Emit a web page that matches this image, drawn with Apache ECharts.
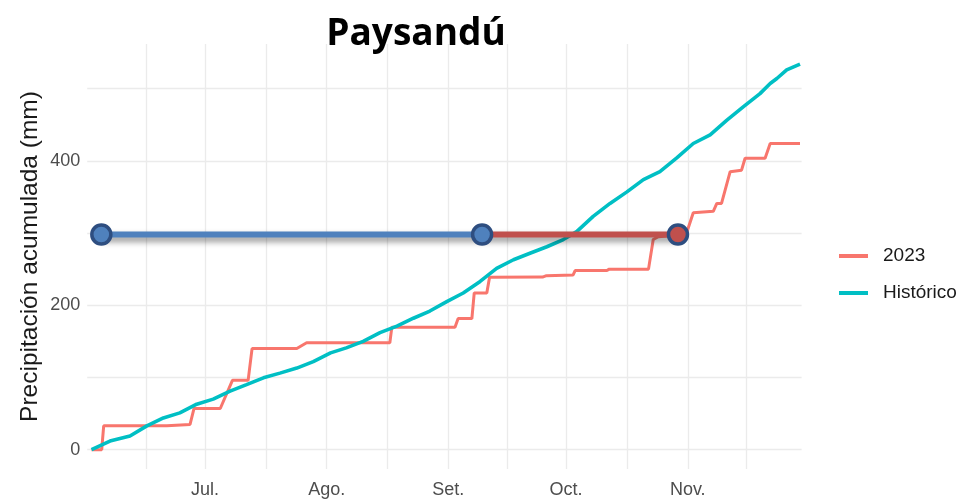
<!DOCTYPE html>
<html>
<head>
<meta charset="utf-8">
<script src="https://cdn.jsdelivr.net/npm/echarts@6/dist/echarts.min.js"></script>
<style>
html,body{margin:0;padding:0;background:#fff;}
#chart{width:962px;height:499px;}
</style>
</head>
<body>
<div id="chart"></div>
<script>
// Days counted from June 1 (day 0)
const monthStarts = [30, 61, 92, 122, 153];
const monthLabels = ['Jul.', 'Ago.', 'Set.', 'Oct.', 'Nov.'];
const gridDays = [15, 30, 45.5, 61, 76.5, 92, 107, 122, 137.5, 153, 168];
const yTicks = [0, 100, 200, 300, 400, 500];
const yLabels = [0, 200, 400];

const historicoDays = [1.1, 5.8, 10.9, 15.2, 19.4, 23.6, 27.9, 32.1, 36.4, 40.6, 44.9, 49.1, 53.4, 57.6, 62, 66, 70.3, 74.6, 78.9, 83.1, 87.3, 91.6, 95.8, 100.1, 104.3, 108.6, 112.8, 117.1, 121.3, 124.7, 128.9, 133.2, 137.5, 141.7, 145.9, 150.2, 154.4, 158.7, 162.9, 167.2, 171.4, 174, 175.7, 178.2, 181.6];
const historicoMm = [0, 12, 19, 33, 44, 51, 63, 70, 81, 90, 99.5, 106, 113, 122, 134, 141, 150, 162, 171, 182, 192, 205, 217, 233, 251, 263, 272, 281, 291, 302, 323, 341, 357, 374, 385, 404, 424, 436, 456, 475, 493, 507, 514, 526, 534];

const y2023Days = [1.1, 3.7, 4.2, 20.3, 20.8, 26.2, 27.2, 33.9, 37, 41, 42, 53.4, 55.9, 77.1, 77.6, 93.7, 94.5, 98, 98.6, 101.8, 102.5, 116, 117, 123.8, 124.3, 132.4, 133, 143, 144.2, 145.5, 150, 152.7, 154.4, 159.5, 160.4, 161.6, 163.8, 166.7, 167.6, 172.7, 174, 181.6];
const y2023Mm = [0, 0, 33, 33, 35, 35, 57, 57, 96, 96, 140, 140, 148, 148, 169.5, 169.5, 181.5, 181.5, 217, 217, 238.6, 239, 241, 242, 248, 248, 250, 250, 291, 295, 297, 300, 328, 330, 341, 341, 385, 387, 403.6, 403.6, 424, 424];

const annotLevel = 298;
const annotDays = [3.6, 100.6, 150.5];

const zip = (a, b) => a.map((v, i) => [v, b[i]]);

const chart = echarts.init(document.getElementById('chart'));
const dotStyle = { borderColor: '#2E4E80', borderWidth: 3.5 };
chart.setOption({
  animation: false,
  backgroundColor: '#fff',
  title: {
    text: 'Paysandú',
    left: 416, top: 16, textAlign: 'center', padding: 0,
    textStyle: { fontFamily: 'Open Sans', fontWeight: 'bold', fontSize: 37, color: '#000' }
  },
  legend: {
    data: ['2023', 'Histórico'],
    orient: 'vertical', left: 839, top: 245, padding: 0,
    icon: 'rect', itemWidth: 29, itemHeight: 4, itemGap: 15,
    textStyle: { fontFamily: 'Liberation Sans', fontSize: 19, color: '#1a1a1a', lineHeight: 22, padding: [0, 0, 0, 10] }
  },
  grid: { left: 87.2, right: 160.4, top: 44, bottom: 29.3, containLabel: false },
  xAxis: {
    type: 'value', min: 0, max: 182,
    axisLine: { show: false },
    axisTick: { show: false, customValues: gridDays },
    axisLabel: {
      customValues: monthStarts, margin: 12,
      fontFamily: 'Liberation Sans', fontSize: 18, color: '#4D4D4D',
      formatter: v => monthLabels[monthStarts.indexOf(v)] || ''
    },
    splitLine: { show: true, lineStyle: { color: '#EBEBEB', width: 1.3 } }
  },
  yAxis: {
    type: 'value', min: -26.75, max: 561.75,
    name: 'Precipitación acumulada (mm)', nameLocation: 'middle', nameGap: 44,
    nameMoveOverlap: false,
    nameTextStyle: { fontFamily: 'Liberation Sans', fontSize: 24.5, color: '#1a1a1a' },
    axisLine: { show: false },
    axisTick: { show: false, customValues: yTicks },
    axisLabel: {
      customValues: yLabels, margin: 7,
      fontFamily: 'Liberation Sans', fontSize: 18, color: '#4D4D4D'
    },
    splitLine: { show: true, lineStyle: { color: '#EBEBEB', width: 1.3 } }
  },
  series: [
    {
      name: '2023', type: 'line', data: zip(y2023Days, y2023Mm),
      showSymbol: false, color: '#F8766D',
      lineStyle: { width: 3, color: '#F8766D' }, z: 3
    },
    {
      name: 'Histórico', type: 'line', data: zip(historicoDays, historicoMm),
      showSymbol: false, color: '#00BFC4',
      lineStyle: { width: 3.6, color: '#00BFC4' }, z: 4
    },
    {
      name: 'annotRed', type: 'line', z: 5,
      data: [
        { value: [annotDays[1], annotLevel], symbol: 'none' },
        { value: [annotDays[2], annotLevel] }
      ],
      symbol: 'circle', symbolSize: 19,
      itemStyle: Object.assign({ color: '#C0504D' }, dotStyle),
      lineStyle: { width: 6, color: '#C0504D', shadowColor: 'rgba(0,0,0,0.45)', shadowBlur: 6, shadowOffsetY: 4, shadowOffsetX: 1 }
    },
    {
      name: 'annotBlue', type: 'line', z: 6,
      data: [[annotDays[0], annotLevel], [annotDays[1], annotLevel]],
      symbol: 'circle', symbolSize: 19,
      itemStyle: Object.assign({ color: '#4F81BD' }, dotStyle),
      lineStyle: { width: 6, color: '#4F81BD', shadowColor: 'rgba(0,0,0,0.45)', shadowBlur: 6, shadowOffsetY: 4, shadowOffsetX: 1 }
    }
  ]
});
</script>
</body>
</html>
